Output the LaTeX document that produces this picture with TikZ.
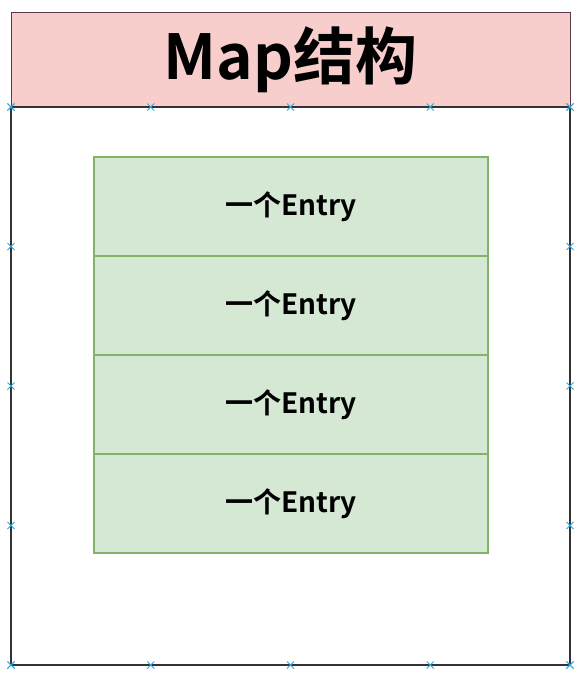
\documentclass[tikz,border=0pt]{standalone}
\usepackage{fontspec}
\newfontfamily\cjk{Noto Sans CJK SC}[BoldFont={Noto Sans CJK SC Bold}]
\usetikzlibrary{positioning,calc,shapes.misc}

\definecolor{titlefill}{HTML}{F8CECC}
\definecolor{titleline}{HTML}{5B3B4B}
\definecolor{entryfill}{HTML}{D5E8D4}
\definecolor{entryline}{HTML}{82B366}
\definecolor{boxline}{HTML}{333333}
\definecolor{markblue}{HTML}{29A8E0}

\begin{document}
\begin{tikzpicture}[x=1pt,y=-1pt,
every node/.style = {shape=rectangle, align=center, inner sep=0pt, outer sep=0pt},
container/.style = {draw=boxline, line width=1.3pt, fill=white,
	minimum width=559pt, minimum height=558pt},
header/.style = {draw=titleline, line width=1pt, fill=titlefill,
	minimum width=559pt, minimum height=95pt,
	font=\cjk\bfseries\fontsize{62}{70}\selectfont},
entry/.style = {draw=entryline, line width=1.2pt, fill=entryfill,
	minimum width=394pt, minimum height=99pt,
	font=\cjk\bfseries\fontsize{28}{32}\selectfont},
joint/.style = {cross out, draw=markblue, line width=1pt,
	minimum size=7pt}]
\useasboundingbox (0,0) rectangle (587,680);
\node[header] (title) at (290.5,59.5) {Map结构};
\node[container, below=0pt of title] (map) {};
\node[entry] (e1) at (291,206.5) {一个Entry};
\node[entry, below=0pt of e1] (e2) {一个Entry};
\node[entry, below=0pt of e2] (e3) {一个Entry};
\node[entry, below=0pt of e3] (e4) {一个Entry};
% connection points of the container
\foreach \i in {0,...,4} {
	\node[joint] (t\i) at ($(map.north west)!\i/4!(map.north east)$) {};
	\node[joint] (b\i) at ($(map.south west)!\i/4!(map.south east)$) {};
	\node[joint] (l\i) at ($(map.north west)!\i/4!(map.south west)$) {};
	\node[joint] (r\i) at ($(map.north east)!\i/4!(map.south east)$) {};
}
\end{tikzpicture}
\end{document}
